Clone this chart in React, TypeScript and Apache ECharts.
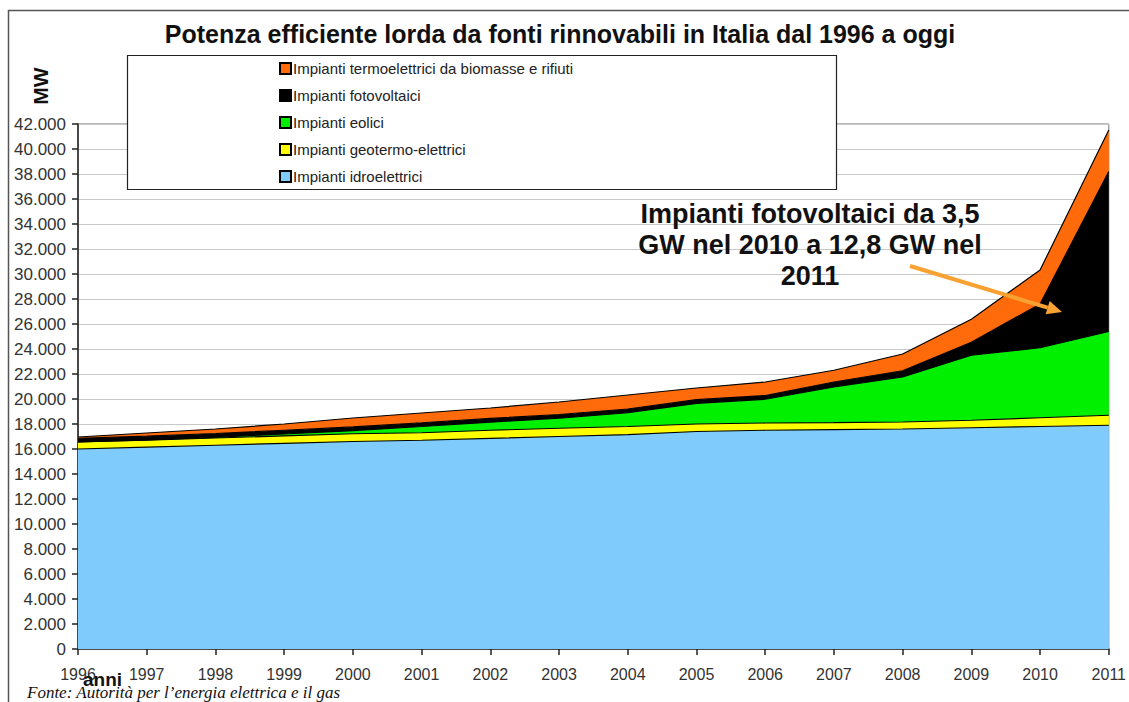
import React, { useEffect, useRef } from "react";
import * as echarts from "echarts";

const years = ["1996","1997","1998","1999","2000","2001","2002","2003","2004","2005","2006","2007","2008","2009","2010","2011"];
const idro = [16000,16150,16300,16450,16600,16700,16850,17000,17150,17400,17500,17550,17600,17700,17800,17900];
const geotermo = [560,560,580,600,620,600,650,660,650,600,580,560,560,600,700,800];
const eolici = [0,20,60,150,250,500,650,800,1100,1650,1900,2850,3600,5200,5600,6700];
const fotovoltaici = [300,300,300,300,300,300,300,300,300,300,300,400,500,1040,3500,12800];
const biomasse = [100,250,360,500,710,780,830,1000,1120,930,1080,940,1340,1840,2720,3320];

const names = [
  "Impianti idroelettrici",
  "Impianti geotermo-elettrici",
  "Impianti eolici",
  "Impianti fotovoltaici",
  "Impianti termoelettrici da biomasse e rifiuti",
];
const colors = ["#7FCBFC", "#FFFF00", "#00F000", "#000000", "#FF6A0A"];
const seriesData = [idro, geotermo, eolici, fotovoltaici, biomasse];

const fmt = (v: number) => String(v).replace(/\B(?=(\d{3})+(?!\d))/g, ".");

export default function App() {
  const ref = useRef<HTMLDivElement>(null);
  useEffect(() => {
    if (!ref.current) return;
    const chart = echarts.init(ref.current, null, { renderer: "svg" });
    const ax1 = 910, ay1 = 266, ax2 = 1062, ay2 = 312;
    const dx = ax2 - ax1, dy = ay2 - ay1, len = Math.sqrt(dx * dx + dy * dy);
    const ux = dx / len, uy = dy / len;
    const hl = 15, hw = 7;
    const bx = ax2 - ux * hl, by = ay2 - uy * hl;
    chart.setOption({
      animation: false,
      backgroundColor: "#ffffff",
      title: {
        text: "Potenza efficiente lorda da fonti rinnovabili in Italia dal 1996 a oggi",
        left: 555,
        textAlign: "center",
        top: 16,
        textStyle: { fontFamily: "Liberation Sans", fontWeight: "bold", fontSize: 25, color: "#111" },
      },
      legend: {
        orient: "vertical",
        left: 274,
        top: 55,
        itemWidth: 11,
        itemHeight: 11,
        itemGap: 10,
        icon: "rect",
        data: names.slice().reverse(),
        textStyle: { fontFamily: "Liberation Sans", fontSize: 15, lineHeight: 17, color: "#222", padding: [0, 0, 0, -3] },
        z: 20,
      },
      grid: {
        left: 78,
        right: 8,
        top: 124,
        bottom: 53,
        show: true,
        borderColor: "#777",
        borderWidth: 1,
        backgroundColor: "transparent",
      },
      xAxis: {
        type: "category",
        data: years,
        boundaryGap: false,
        axisLine: { lineStyle: { color: "#222", width: 1.5 } },
        axisTick: { show: true, length: 6, lineStyle: { color: "#222", width: 1.5 } },
        axisLabel: {
          fontFamily: "Liberation Sans", fontSize: 16, color: "#333", margin: 17,
          alignMinLabel: "center", alignMaxLabel: "center", hideOverlap: false,
        },
      },
      yAxis: {
        type: "value",
        min: 0,
        max: 42000,
        interval: 2000,
        axisLine: { show: true, lineStyle: { color: "#222", width: 1.5 } },
        axisTick: { show: true, length: 6, lineStyle: { color: "#222", width: 1.5 } },
        splitLine: { lineStyle: { color: "#c8c8c8", width: 1 } },
        axisLabel: { fontFamily: "Liberation Sans", fontSize: 17, color: "#333", margin: 12, formatter: (v: number) => fmt(v) },
      },
      series: seriesData.map((d, i) => ({
        name: names[i],
        type: "line",
        stack: "total",
        data: d,
        symbol: "none",
        color: colors[i],
        itemStyle: { color: colors[i], borderColor: "#000", borderWidth: 1 },
        lineStyle: { color: "#000", width: 1.2 },
        areaStyle: { color: colors[i], opacity: 1 },
        z: 2,
      })),
      graphic: [
        {
          type: "rect",
          shape: { x: 8.5, y: 10.5, width: 1200, height: 800 },
          style: { fill: "none", stroke: "#555", lineWidth: 1.5 },
          silent: true,
          z: 1,
        },
        {
          type: "rect",
          shape: { x: 127.5, y: 55.5, width: 709, height: 134 },
          style: { fill: "#ffffff", stroke: "#222", lineWidth: 1.2 },
          z: 10,
        },
        {
          type: "text",
          x: 40,
          y: 86,
          rotation: Math.PI / 2,
          style: {
            text: "MW",
            fontFamily: "Liberation Sans",
            fontWeight: "bold",
            fontSize: 21,
            fill: "#111",
            align: "center",
            verticalAlign: "middle",
          },
          z: 10,
        },
        {
          type: "text",
          x: 810,
          y: 198,
          style: {
            text: "Impianti fotovoltaici da 3,5\nGW nel 2010 a 12,8 GW nel\n2011",
            fontFamily: "Liberation Sans",
            fontWeight: "bold",
            fontSize: 27,
            lineHeight: 31,
            fill: "#111",
            align: "center",
          },
          z: 10,
        },
        {
          type: "line",
          shape: { x1: ax1, y1: ay1, x2: bx, y2: by },
          style: { stroke: "#F7A233", lineWidth: 4 },
          z: 10,
        },
        {
          type: "polygon",
          shape: {
            points: [
              [ax2, ay2],
              [bx - uy * hw, by + ux * hw],
              [bx + uy * hw, by - ux * hw],
            ],
          },
          style: { fill: "#F7A233" },
          z: 10,
        },
        {
          type: "text",
          x: 83,
          y: 670,
          style: { text: "anni", fontFamily: "Liberation Sans", fontWeight: "bold", fontSize: 19, fill: "#111" },
          z: 10,
        },
        {
          type: "text",
          x: 27,
          y: 684,
          style: {
            text: "Fonte: Autorità per l’energia elettrica e il gas",
            fontFamily: "Liberation Serif",
            fontStyle: "italic",
            fontSize: 17,
            fill: "#111",
          },
          z: 10,
        },
      ],
    });
    return () => chart.dispose();
  }, []);
  return <div ref={ref} style={{ position: "fixed", left: 0, top: 0, width: 1129, height: 702 }} />;
}
